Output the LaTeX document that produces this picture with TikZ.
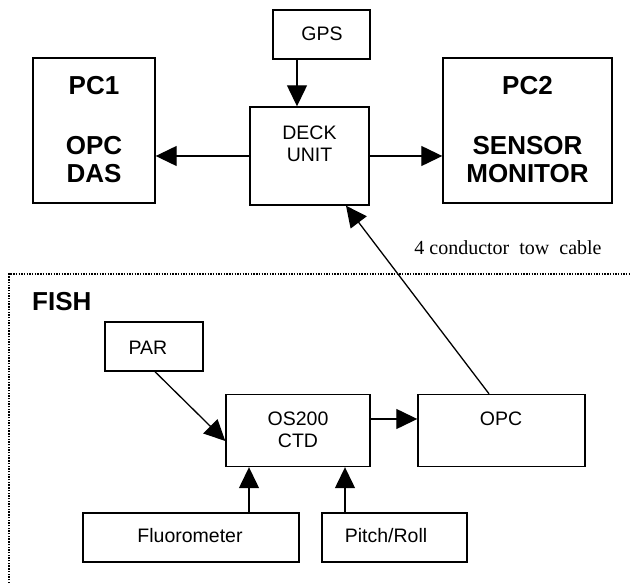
\documentclass[tikz,border=0pt]{standalone}
\usepackage{fontspec}
\setmainfont{Liberation Sans}
\newfontfamily\tmsfont{Liberation Serif}
\usetikzlibrary{arrows.meta}
\tikzset{
  blk/.style={draw, line width=1.4pt, inner sep=0pt, fill=none},
  lbl/.style={inner sep=0pt, font=\fontsize{19.5}{22}\selectfont},
  blbl/.style={inner sep=0pt, font=\fontsize{26}{30}\selectfont\bfseries},
  arr/.style={line width=1.3pt, -{Triangle[length=21pt,width=20pt]}},
  dotframe/.style={line width=1.6pt, dash pattern=on 1.4pt off 1.3pt}
}
\begin{document}
\begin{tikzpicture}[x=1pt,y=-1pt]
\useasboundingbox (0,0) rectangle (630,585);
% boxes
\node[blk, minimum width=97pt, minimum height=49pt] (gps) at (321.5,34.5) {};
\node[blk, minimum width=122pt, minimum height=145pt] (pc1) at (94,130.5) {};
\node[blk, minimum width=119pt, minimum height=98pt] (deck) at (309.5,156) {};
\node[blk, minimum width=169pt, minimum height=145pt] (pc2) at (527.5,130.5) {};
\node[blk, minimum width=98pt, minimum height=49pt] (par) at (154,346.5) {};
\node[blk, minimum width=144pt, minimum height=72pt] (ctd) at (298,430.5) {};
\node[blk, minimum width=167pt, minimum height=72pt] (opc) at (501.5,430.5) {};
\node[blk, minimum width=216pt, minimum height=49pt] (fluor) at (191,537.5) {};
\node[blk, minimum width=145pt, minimum height=49pt] (pitch) at (394.5,537.5) {};
% texts
\node[lbl] (tgps) at (322,34) {GPS};
\node[blbl] (tpc1) at (94,86) {PC1};
\node[blbl] (topc1) at (94,146) {OPC};
\node[blbl] (tdas) at (94,174) {DAS};
\node[blbl] (tpc2) at (527.5,86) {PC2};
\node[blbl] (tsens) at (527.5,146) {SENSOR};
\node[blbl] (tmon) at (527.5,174) {MONITOR};
\node[lbl] (tdeck) at (309.5,133) {DECK};
\node[lbl] (tunit) at (309.5,155) {UNIT};
\node[inner sep=0pt, font=\fontsize{20}{24}\selectfont\tmsfont] (tcable) at (508,248) {4 conductor\ \ tow\ \ cable};
\node[blbl, anchor=west] (tfish) at (32,302) {FISH};
\node[lbl] (tpar) at (148,348) {PAR};
\node[lbl] (tos) at (298,419) {OS200};
\node[lbl] (tctd) at (298,441) {CTD};
\node[lbl] (topc) at (501,419) {OPC};
\node[lbl] (tfluor) at (190,536) {Fluorometer};
\node[lbl] (tpitch) at (386,536) {Pitch/Roll};
% dotted frame
\coordinate (fbl) at (9,583);
\coordinate (ftl) at (9,274);
\coordinate (ftr) at (630,274);
\draw[dotframe] (fbl) -- (ftl) -- (ftr);
% connectors
\draw[arr] ([xshift=-24.5pt]gps.south) -- ([xshift=-12.5pt]deck.north);
\draw[arr] (deck.west) -- (deck.west -| pc1.east);
\draw[arr] (deck.east) -- (deck.east -| pc2.west);
\draw[arr] ([xshift=-12.5pt]opc.north) -- ([xshift=36.5pt]deck.south);
\draw[arr] ([xshift=1pt]par.south) -- ([yshift=-10.5pt]ctd.west);
\draw[arr] ([yshift=11.5pt]ctd.east) -- ([yshift=11.5pt]ctd.east -| opc.west);
\draw[arr] ([xshift=58pt]fluor.north) -- ([xshift=58pt]fluor.north |- ctd.south);
\draw[arr] ([xshift=-49.5pt]pitch.north) -- ([xshift=-49.5pt]pitch.north |- ctd.south);
\end{tikzpicture}
\end{document}
